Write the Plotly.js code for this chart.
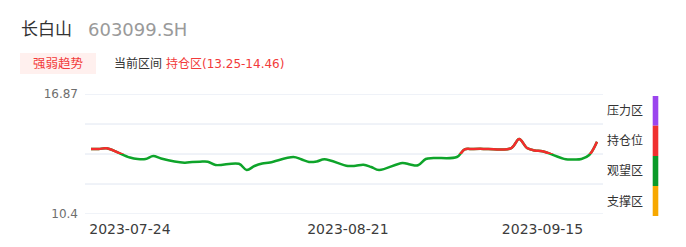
<!DOCTYPE html>
<html>
<head>
<meta charset="utf-8">
<script src="https://cdn.plot.ly/plotly-3.0.1.min.js"></script>
<style>
html,body{margin:0;padding:0;background:#fff;}
#chart{width:686px;height:247px;}
</style>
</head>
<body>
<div id="chart"></div>
<script>
// ---- data ----
const stockName = '长白山';
const stockCode = '603099.SH';
const tagLabel = '强弱趋势';
const rangeLabel = '当前区间';
const rangeValue = '持仓区(13.25-14.46)';
const dates = [
  '2023-07-19','2023-07-20','2023-07-21',
  '2023-07-24','2023-07-25','2023-07-26','2023-07-27','2023-07-28',
  '2023-07-31','2023-08-01','2023-08-02','2023-08-03','2023-08-04',
  '2023-08-07','2023-08-08','2023-08-09','2023-08-10','2023-08-11',
  '2023-08-14','2023-08-15','2023-08-16','2023-08-17','2023-08-18',
  '2023-08-21','2023-08-22','2023-08-23','2023-08-24','2023-08-25',
  '2023-08-28','2023-08-29','2023-08-30','2023-08-31','2023-09-01',
  '2023-09-04','2023-09-05','2023-09-06','2023-09-07','2023-09-08',
  '2023-09-11','2023-09-12','2023-09-13','2023-09-14','2023-09-15',
  '2023-09-18','2023-09-19','2023-09-20','2023-09-21','2023-09-22'
];
const values = [
  13.905,13.905,13.942,
  13.446,13.365,13.365,13.527,13.392,
  13.166,13.204,13.220,13.220,13.042,
  13.107,12.772,12.988,13.123,13.177,
  13.473,13.349,13.204,13.231,13.349,
  12.988,13.004,13.058,12.934,12.772,
  13.150,13.069,13.026,13.365,13.419,
  13.473,13.888,13.905,13.915,13.905,
  13.958,14.444,13.958,13.824,13.781,
  13.349,13.338,13.365,13.581,14.298
];
const holdThreshold = 13.63;
const yTickVals = [10.4, 12.0175, 13.635, 15.2525, 16.87];
const yTickText = ['10.4', '', '', '', '16.87'];
const xTickVals = ['2023-07-24', '2023-08-21', '2023-09-15'];
const xTickText = ['2023-07-24', '2023-08-21', '2023-09-15'];
const zoneLabels = ['压力区', '持仓位', '观望区', '支撑区'];
const zoneColors = ['#9b45ee', '#f0302f', '#0a9a28', '#f7a800'];

// ---- layout helpers (pixel -> paper) ----
const W = 686, H = 247;
const M = {l: 85, r: 83, t: 94, b: 33};
const PW = W - M.l - M.r, PH = H - M.t - M.b;
const px = x => (x - M.l) / PW;
const py = y => (M.t + PH - y) / PH;

const yMin = yTickVals[0], yMax = yTickVals[yTickVals.length - 1];
const splitFrac = (holdThreshold - yMin) / (yMax - yMin);

const RED = '#f42c2c', GREEN = '#0ea42a';
const FONT = 'DejaVu Sans, Noto Sans CJK SC, sans-serif';

const traces = [
  {x: dates, y: values, type: 'scatter', mode: 'lines', xaxis: 'x', yaxis: 'y',
   line: {color: GREEN, width: 2.5, shape: 'spline', smoothing: 1}, hoverinfo: 'skip'},
  {x: dates, y: values, type: 'scatter', mode: 'lines', xaxis: 'x', yaxis: 'y2',
   line: {color: RED, width: 2.5, shape: 'spline', smoothing: 1}, hoverinfo: 'skip'}
];

const shapes = [
  {type: 'rect', xref: 'paper', yref: 'paper', x0: px(20), x1: px(96), y0: py(53), y1: py(74),
   fillcolor: '#fff0ee', line: {width: 0}}
];
// horizontal grid lines at every y tick value
yTickVals.forEach(v => {
  shapes.push({type: 'line', xref: 'paper', yref: 'y', x0: 0, x1: 1, y0: v, y1: v,
    layer: 'below', line: {color: '#e0e6f1', width: 1}});
});
const barEdges = [96, 125.7, 156, 186, 216];
zoneColors.forEach((c, i) => {
  shapes.push({type: 'rect', xref: 'paper', yref: 'paper', x0: px(652.7), x1: px(658.3),
    y0: py(barEdges[i + 1]), y1: py(barEdges[i]), fillcolor: c, line: {width: 0}});
});

const annotations = [
  {text: stockName, x: px(19), y: py(29.5), xref: 'paper', yref: 'paper', xanchor: 'left', yanchor: 'middle',
   showarrow: false, font: {family: FONT, size: 17, color: '#333333'}},
  {text: stockCode, x: px(86), y: py(29.5), xref: 'paper', yref: 'paper', xanchor: 'left', yanchor: 'middle',
   showarrow: false, font: {family: FONT, size: 18, color: '#9a9a9a'}},
  {text: tagLabel, x: px(58.3), y: py(63.5), xref: 'paper', yref: 'paper', xanchor: 'center', yanchor: 'middle',
   showarrow: false, font: {family: FONT, size: 12.5, color: '#f23a3a'}},
  {text: rangeLabel, x: px(112), y: py(63.5), xref: 'paper', yref: 'paper', xanchor: 'left', yanchor: 'middle',
   showarrow: false, font: {family: FONT, size: 12, color: '#333333'}},
  {text: rangeValue, x: px(164), y: py(63.5), xref: 'paper', yref: 'paper', xanchor: 'left', yanchor: 'middle',
   showarrow: false, font: {family: FONT, size: 12, color: '#f23a3a'}}
];
zoneLabels.forEach((t, i) => {
  annotations.push({text: t, x: px(605), y: py((barEdges[i] + barEdges[i + 1]) / 2), xref: 'paper', yref: 'paper',
    xanchor: 'left', yanchor: 'middle', showarrow: false, font: {family: FONT, size: 12, color: '#333333'}});
});

const layout = {
  width: W, height: H,
  margin: M,
  paper_bgcolor: '#ffffff', plot_bgcolor: 'rgba(0,0,0,0)',
  showlegend: false,
  font: {family: FONT},
  xaxis: {
    type: 'date', range: ['2023-07-18 05:30', '2023-09-22 18:30'],
    tickmode: 'array', tickvals: xTickVals, ticktext: xTickText,
    showgrid: false, zeroline: false, showline: false, ticks: '',
    ticklabelstandoff: 5,
    tickfont: {family: FONT, size: 14, color: '#3c3c3c'}, fixedrange: true
  },
  yaxis: {
    range: [yMin, yMax], domain: [0, 1],
    tickmode: 'array', tickvals: yTickVals, ticktext: yTickText,
    showgrid: false, zeroline: false, showline: false, ticks: '',
    ticklabelstandoff: 6,
    tickfont: {family: FONT, size: 12, color: '#6e6e6e'}, fixedrange: true
  },
  yaxis2: {
    range: [holdThreshold, yMax], domain: [splitFrac, 1], anchor: 'x',
    visible: false, showgrid: false, zeroline: false, fixedrange: true
  },
  shapes: shapes,
  annotations: annotations
};

Plotly.newPlot('chart', traces, layout, {staticPlot: true, displayModeBar: false});
</script>
</body>
</html>
